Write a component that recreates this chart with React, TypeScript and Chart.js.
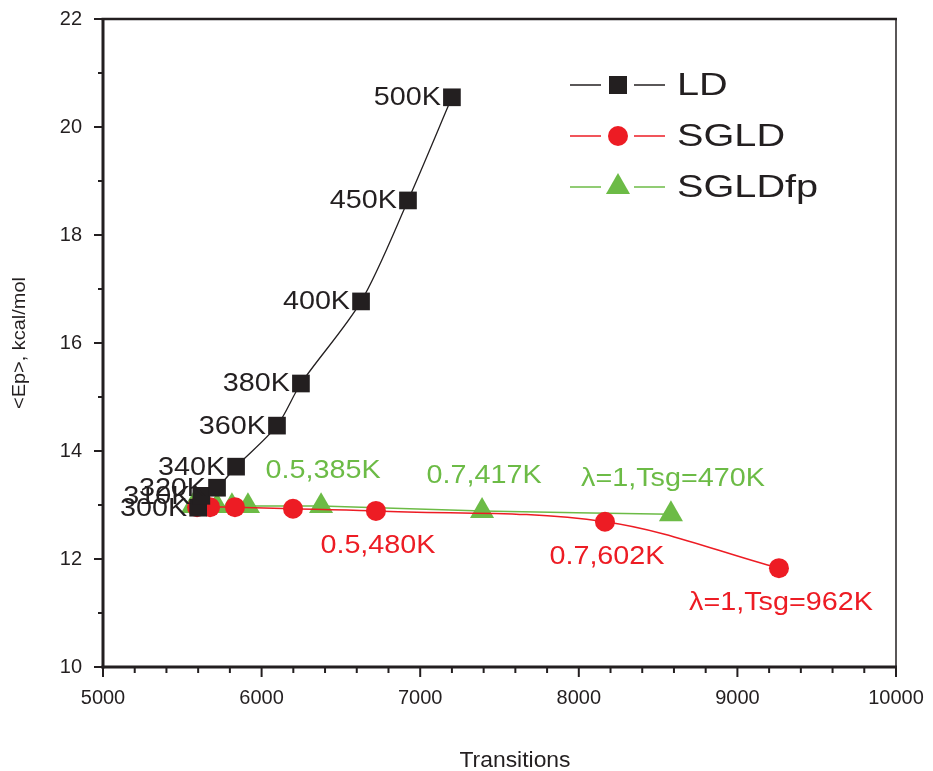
import React, { useEffect, useRef } from 'react';
import { Chart, registerables } from 'chart.js';

Chart.register(...registerables);

const FONT = '"Liberation Sans", Arial, Helvetica, sans-serif';
const BLACK = '#231f20';
const RED = '#ed1c24';
const GREEN = '#6cbb46';

// LD series
const ldX = [5600, 5620, 5719, 5839, 6097, 6248, 6627, 6923, 7200];
const ldY = [12.95, 13.17, 13.32, 13.71, 14.47, 15.25, 16.77, 18.64, 20.55];
const ldLabels = ['300K', '310K', '320K', '340K', '360K', '380K', '400K', '450K', '500K'];

// SGLD series
const sgldX = [5593, 5675, 5832, 6198, 6721, 8165, 9262];
const sgldY = [12.96, 12.96, 12.96, 12.93, 12.89, 12.69, 11.83];
const sgldLabels = ['', '', '', '', '0.5,480K', '0.7,602K', 'λ=1,Tsg=962K'];

// SGLDfp series
const fpX = [5567, 5656, 5719, 5813, 5914, 6375, 7390, 8581];
const fpY = [12.98, 12.98, 12.98, 12.98, 12.98, 12.98, 12.89, 12.83];
const fpLabels = ['', '', '', '', '', '0.5,385K', '0.7,417K', 'λ=1,Tsg=470K'];

const seriesNames = ['LD', 'SGLD', 'SGLDfp'];
const xTitle = 'Transitions';
const yTitle = '<Ep>, kcal/mol';
const xMin = 5000, xMax = 10000, xStep = 1000, xMinor = 200;
const yMin = 10, yMax = 22, yStep = 2, yMinor = 1;

function drawText(ctx: CanvasRenderingContext2D, text: string, x: number, y: number, size: number, color: string, align: CanvasTextAlign, sx: number) {
  ctx.save();
  ctx.font = `${size}px ${FONT}`;
  ctx.fillStyle = color;
  ctx.textBaseline = 'middle';
  ctx.textAlign = align;
  ctx.translate(x, y);
  ctx.scale(sx, 1);
  ctx.fillText(text, 0, 0);
  ctx.restore();
}

function marker(ctx: CanvasRenderingContext2D, style: string, x: number, y: number, color: string) {
  ctx.save();
  ctx.fillStyle = color;
  ctx.beginPath();
  if (style === 'rect') {
    ctx.rect(x - 9, y - 9, 18, 18);
  } else if (style === 'circle') {
    ctx.arc(x, y, 10, 0, Math.PI * 2);
  } else {
    const r = 13.9;
    ctx.moveTo(x, y - r);
    ctx.lineTo(x + r * Math.cos(Math.PI / 6), y + r / 2);
    ctx.lineTo(x - r * Math.cos(Math.PI / 6), y + r / 2);
    ctx.closePath();
  }
  ctx.fill();
  ctx.restore();
}

const noPad = (s: any) => {
  s.paddingTop = 0;
  s.paddingBottom = 0;
  s.paddingLeft = 0;
  s.paddingRight = 0;
};

const decorPlugin = {
  id: 'decor',
  afterDatasetsDraw(chart: any) {
    const ctx: CanvasRenderingContext2D = chart.ctx;
    const { left, right, top, bottom } = chart.chartArea;
    const xs = chart.scales.x;
    const ys = chart.scales.y;

    // frame
    ctx.save();
    ctx.strokeStyle = BLACK;
    ctx.lineCap = 'butt';
    ctx.lineWidth = 2.5;
    ctx.beginPath(); ctx.moveTo(left - 1.5, top); ctx.lineTo(right + 1, top); ctx.stroke();
    ctx.lineWidth = 1.5;
    ctx.beginPath(); ctx.moveTo(right, top); ctx.lineTo(right, bottom); ctx.stroke();
    ctx.lineWidth = 3;
    ctx.beginPath(); ctx.moveTo(left, top - 1); ctx.lineTo(left, bottom + 1.5); ctx.stroke();
    ctx.beginPath(); ctx.moveTo(left - 1.5, bottom); ctx.lineTo(right + 1, bottom); ctx.stroke();

    // ticks
    ctx.lineWidth = 2;
    for (let v = yMin; v <= yMax + 1e-9; v += yMinor) {
      const py = ys.getPixelForValue(v);
      const len = Math.abs(v / yStep - Math.round(v / yStep)) < 1e-6 ? 9 : 5;
      ctx.beginPath(); ctx.moveTo(left - len, py); ctx.lineTo(left, py); ctx.stroke();
    }
    for (let v = xMin; v <= xMax + 1e-9; v += xMinor) {
      const px = xs.getPixelForValue(v);
      const len = Math.abs(v / xStep - Math.round(v / xStep)) < 1e-6 ? 10 : 6;
      ctx.beginPath(); ctx.moveTo(px, bottom); ctx.lineTo(px, bottom + len); ctx.stroke();
    }
    ctx.restore();

    // point annotations
    const m0 = chart.getDatasetMeta(0).data;
    ldLabels.forEach((t, i) => {
      if (!t) return;
      const p = m0[i];
      drawText(ctx, t, p.x - 11, p.y + 1, 25, BLACK, 'right', 1.15);
    });
    const m1 = chart.getDatasetMeta(1).data;
    sgldLabels.forEach((t, i) => {
      if (!t) return;
      const p = m1[i];
      drawText(ctx, t, p.x + 2, p.y + 35, 25, RED, 'center', 1.15);
    });
    const m2 = chart.getDatasetMeta(2).data;
    fpLabels.forEach((t, i) => {
      if (!t) return;
      const p = m2[i];
      drawText(ctx, t, p.x + 2, p.y - 35, 25, GREEN, 'center', 1.15);
    });

    // legend
    const legendColors = [BLACK, RED, GREEN];
    const legendStyles = ['rect', 'circle', 'triangle'];
    const legendY = [85, 136, 187];
    seriesNames.forEach((name, i) => {
      const y = legendY[i];
      ctx.save();
      ctx.strokeStyle = legendColors[i];
      ctx.lineWidth = 1.5;
      ctx.beginPath(); ctx.moveTo(570, y); ctx.lineTo(601, y); ctx.stroke();
      ctx.beginPath(); ctx.moveTo(634, y); ctx.lineTo(665, y); ctx.stroke();
      ctx.restore();
      marker(ctx, legendStyles[i], 618, y, legendColors[i]);
      drawText(ctx, name, 677, y + 1, 32, BLACK, 'left', 1.24);
    });

    // axis titles
    drawText(ctx, xTitle, 515, 761, 22, BLACK, 'center', 1.04);
    ctx.save();
    ctx.translate(20, 343);
    ctx.rotate(-Math.PI / 2);
    drawText(ctx, yTitle, 0, 0, 19, BLACK, 'center', 1.05);
    ctx.restore();
  },
};

export default function App() {
  const ref = useRef<HTMLCanvasElement | null>(null);
  useEffect(() => {
    if (!ref.current) return;
    const chart = new Chart(ref.current, {
      type: 'scatter',
      data: {
        datasets: [
          {
            label: seriesNames[0],
            data: ldX.map((x, i) => ({ x, y: ldY[i] })),
            showLine: true,
            borderColor: BLACK,
            borderWidth: 1.3,
            backgroundColor: BLACK,
            pointStyle: 'rect',
            pointRadius: 12.5,
            pointBorderWidth: 0,
            tension: 0.3,
          },
          {
            label: seriesNames[1],
            data: sgldX.map((x, i) => ({ x, y: sgldY[i] })),
            showLine: true,
            borderColor: RED,
            borderWidth: 1.5,
            backgroundColor: RED,
            pointStyle: 'circle',
            pointRadius: 10,
            pointBorderWidth: 0,
            tension: 0.35,
          },
          {
            label: seriesNames[2],
            data: fpX.map((x, i) => ({ x, y: fpY[i] })),
            showLine: true,
            borderColor: GREEN,
            borderWidth: 1.5,
            backgroundColor: GREEN,
            pointStyle: 'triangle',
            pointRadius: 13.9,
            pointBorderWidth: 0,
            tension: 0.3,
          },
        ],
      },
      options: {
        animation: false,
        responsive: true,
        maintainAspectRatio: false,
        layout: { padding: { top: 19, right: 37, left: 0, bottom: 0 } },
        plugins: { legend: { display: false }, tooltip: { enabled: false } },
        scales: {
          x: {
            type: 'linear',
            min: xMin,
            max: xMax,
            afterFit: (s: any) => { s.height = 104; noPad(s); },
            grid: { display: false, drawTicks: false },
            border: { display: false },
            ticks: {
              stepSize: xStep,
              padding: 19,
              color: BLACK,
              font: { family: FONT, size: 20 },
              maxRotation: 0,
              callback: (v: any) => String(v),
            },
          },
          y: {
            type: 'linear',
            min: yMin,
            max: yMax,
            afterFit: (s: any) => { s.width = 103; noPad(s); },
            grid: { display: false, drawTicks: false },
            border: { display: false },
            ticks: {
              stepSize: yStep,
              padding: 21,
              color: BLACK,
              font: { family: FONT, size: 20 },
              callback: (v: any) => String(v),
            },
          },
        },
      },
      plugins: [decorPlugin],
    });
    return () => chart.destroy();
  }, []);
  return (
    <div style={{ position: 'fixed', left: 0, top: 0, width: 933, height: 771, background: '#fff' }}>
      <canvas ref={ref} />
    </div>
  );
}
